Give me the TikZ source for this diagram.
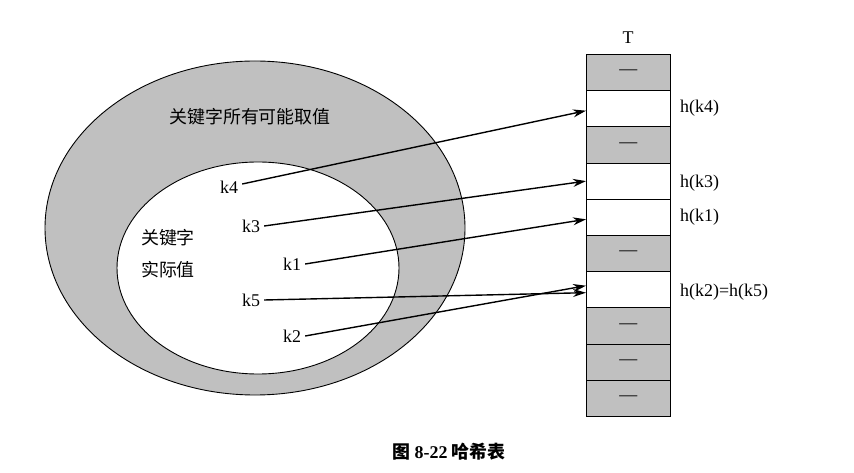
\documentclass[tikz,border=0pt]{standalone}
\usepackage{fontspec}
\setmainfont{Liberation Serif}
\newfontfamily\cjk{Noto Sans CJK SC}
\usetikzlibrary{arrows.meta}
\definecolor{cellgray}{RGB}{192,192,192}
\tikzset{
 px/.style={x=1bp,y=-1bp},
 lbl/.style={font=\fontsize{18}{20}\selectfont, inner sep=0pt},
 cell/.style={draw, line width=0.8pt, minimum width=84bp, minimum height=36.2bp, inner sep=0pt, anchor=north west, font=\fontsize{18}{20}\selectfont},
 gcell/.style={cell, fill=cellgray},
 wcell/.style={cell, fill=white},
 arr/.style={-{Stealth[length=13bp,width=8bp]}, line width=1.4pt}
}
\begin{document}
\begin{tikzpicture}[px]
\useasboundingbox (0,0) rectangle (854,473);
\draw[fill=cellgray, line width=0.9pt] (255,228) ellipse [x radius=210, y radius=167];
\draw[fill=white, line width=0.9pt] (258,268) ellipse [x radius=141, y radius=106];
\node[lbl] (outer) at (250,117) {\cjk 关键字所有可能取值};
\node[lbl] (in1) at (168,238) {\cjk 关键字};
\node[lbl] (in2) at (168,270) {\cjk 实际值};
\node[lbl] (T) at (628,38) {T};
\foreach \i/\s/\t in {0/g/—,1/w/,2/g/—,3/w/,4/w/,5/g/—,6/w/,7/g/—,8/g/—,9/g/—}{
  \node[\s cell] (c\i) at (586,{54+\i*36.2}) {\t};
}
\node[lbl, anchor=west] (h4) at (680,108) {h(k4)};
\node[lbl, anchor=west] (h3) at (680,183) {h(k3)};
\node[lbl, anchor=west] (h1) at (680,217) {h(k1)};
\node[lbl, anchor=west] (h2) at (680,292) {h(k2)=h(k5)};
\node[lbl] (k4) at (229,187) {k4};
\node[lbl] (k3) at (251,226) {k3};
\node[lbl] (k1) at (292,264) {k1};
\node[lbl] (k5) at (251,300) {k5};
\node[lbl] (k2) at (292,336) {k2};
\draw[arr] (k4.east) ++(4,-3) -- ([yshift=-2bp]c1.west);
\draw[arr] (k3.east) ++(4,0) -- ([yshift=0bp]c3.west);
\draw[arr] (k1.east) ++(4,0) -- ([yshift=-2bp]c4.west);
\draw[arr] (k5.east) ++(4,0) -- ([yshift=-3bp]c6.west);
\draw[arr] (k2.east) ++(4,0) -- ([yshift=4bp]c6.west);
\node[font=\bfseries\fontsize{18}{20}\selectfont, inner sep=0pt] (cap) at (449,452) {\cjk\bfseries 图\ {\rmfamily 8-22}\ 哈希表};
\end{tikzpicture}
\end{document}
